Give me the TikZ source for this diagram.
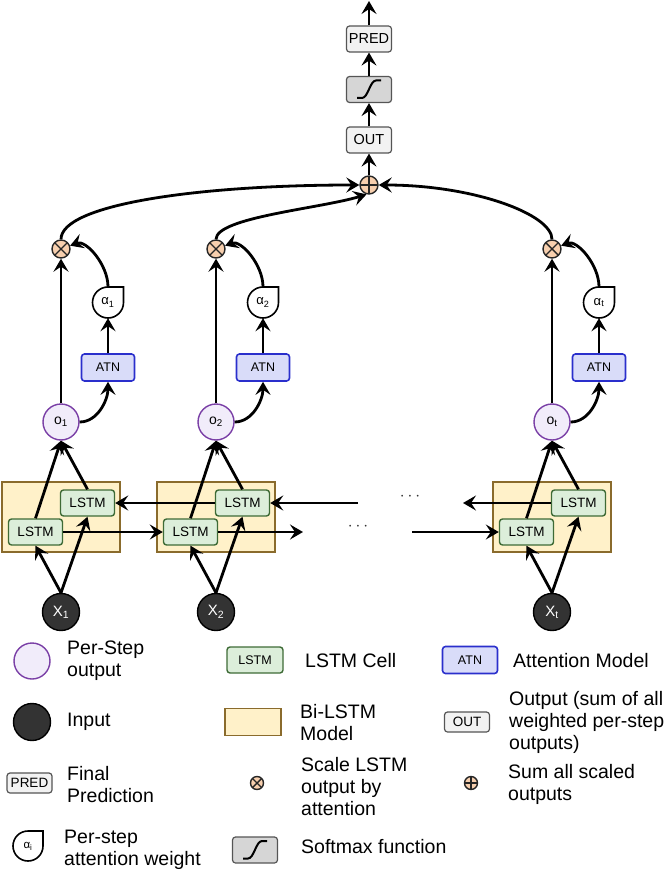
\documentclass[tikz,border=0pt]{standalone}
\usepackage{fontspec}
\setmainfont{Liberation Sans}
\usetikzlibrary{arrows.meta,calc}
\definecolor{ofill}{HTML}{F1ECFA}
\definecolor{oline}{HTML}{7A3FA6}
\definecolor{xfill}{HTML}{333333}
\definecolor{atnfill}{HTML}{D9DCF9}
\definecolor{atnline}{HTML}{2A2FCC}
\definecolor{lstmfill}{HTML}{DCEEDA}
\definecolor{lstmline}{HTML}{3E6B36}
\definecolor{bifill}{HTML}{FFF1C9}
\definecolor{biline}{HTML}{8A6B2C}
\definecolor{peach}{HTML}{F7CFAE}
\definecolor{boxfill}{HTML}{F2F2F2}
\definecolor{boxline}{HTML}{555555}
\definecolor{smfill}{HTML}{D6D6D6}
\begin{document}
\begin{tikzpicture}[x=1pt,y=-1pt,
  arr/.style={line width=2.8pt,-{Stealth[length=13pt,width=15pt,inset=5pt]}},
  lstm/.style={draw=lstmline,fill=lstmfill,line width=1.4pt,rounded corners=3pt,minimum width=54pt,minimum height=26pt,inner sep=0pt,font=\fontsize{13.5}{13.5}\selectfont},
  bibox/.style={draw=biline,fill=bifill,line width=1.4pt,minimum width=118pt,minimum height=70pt,inner sep=0pt},
  atn/.style={draw=atnline,fill=atnfill,line width=1.6pt,rounded corners=3pt,minimum width=53pt,minimum height=27pt,inner sep=0pt,font=\fontsize{12.5}{12.5}\selectfont},
  ocirc/.style={circle,draw=oline,fill=ofill,line width=1.4pt,minimum size=36pt,inner sep=0pt,font=\fontsize{14}{14}\selectfont},
  xcirc/.style={circle,draw=black,fill=xfill,line width=1.4pt,minimum size=37pt,inner sep=0pt,text=white,font=\fontsize{15}{15}\selectfont},
  gbox/.style={draw=boxline,fill=boxfill,line width=1.2pt,rounded corners=3pt,minimum width=45pt,minimum height=26pt,inner sep=0pt,font=\fontsize{14.5}{14.5}\selectfont},
  smbox/.style={draw=boxline,fill=smfill,line width=1.2pt,rounded corners=3pt,minimum width=45pt,minimum height=26pt,inner sep=0pt},
  mult/.style={circle,draw=black!85,fill=peach,line width=1.4pt,minimum size=18pt,inner sep=0pt,
    path picture={\draw[line width=1.4pt,black!85] (path picture bounding box.north west) -- (path picture bounding box.south east) (path picture bounding box.north east) -- (path picture bounding box.south west);}},
  summ/.style={circle,draw=black!85,fill=peach,line width=1.4pt,minimum size=18pt,inner sep=0pt,
    path picture={\draw[line width=1.4pt,black!85] (path picture bounding box.north) -- (path picture bounding box.south) (path picture bounding box.west) -- (path picture bounding box.east);}},
  alphashape/.style={draw=black,fill=white,line width=1.6pt,rounded corners=15.5pt,line cap=rect},
  alphatext/.style={inner sep=0pt,minimum size=31pt,font=\fontsize{13}{13}\selectfont},
  sig/.style={line width=2pt,black},
  legtext/.style={anchor=west,align=left,inner sep=0pt,font=\fontsize{19.5}{22}\selectfont}
]
\useasboundingbox (0,0) rectangle (666,874);

% columns
\foreach \c/\i/\s in {61/1/1,216/2/2,552/3/t}{
  \node[bibox] (b\i) at (\c,517) {};
  \node[lstm] (u\i) at (\c+26.5,503) {LSTM};
  \node[lstm] (l\i) at (\c-25.5,532) {LSTM};
  \node[xcirc] (x\i) at (\c,612) {X\textsubscript{\s}};
  \node[ocirc] (o\i) at (\c,422) {o\textsubscript{\s}};
  \node[atn] (t\i) at (\c+47,367.5) {ATN};
  \draw[alphashape] (\c+62.5,287) -- (\c+62.5,318) -- (\c+31.5,318) -- (\c+31.5,287) -- (\c+62.5,287);
  \node[alphatext] (a\i) at (\c+47,302.5) {α\textsubscript{\s}};
  \node[mult] (m\i) at (\c,249) {};
  \draw[arr] (x\i.north) -- (l\i.south);
  \draw[arr] (x\i.north) -- (u\i.south);
  \draw[arr] (l\i.north) -- (o\i.south);
  \draw[arr] (u\i.north) -- (o\i.south);
  \draw[arr] (o\i.north) -- (m\i.south);
  \draw[arr] (o\i.east) .. controls +(18,0) and +(0,18) .. (t\i.south);
  \draw[arr] (t\i.north) -- (a\i.south);
  \draw[arr] (a\i.north) .. controls +(0,-22) and +(16,-6) .. (m\i.20);
}

% recurrent connections
\coordinate (f2) at (303,532);
\coordinate (f3) at (412,532);
\coordinate (g2) at (358,503);
\coordinate (g3) at (463,503);
\draw[arr] (l1.east) -- (l2.west);
\draw[arr] (l2.east) -- (f2);
\draw[arr] (f3) -- (l3.west);
\draw[arr] (u2.west) -- (u1.east);
\draw[arr] (g2) -- (u2.east);
\draw[arr] (u3.west) -- (g3);
\node[font=\fontsize{16}{16}\selectfont,text=black!80] (d1) at (410,497) {$\cdots$};
\node[font=\fontsize{16}{16}\selectfont,text=black!80] (d2) at (358,527) {$\cdots$};

% top
\node[summ] (s) at (369,185) {};
\node[gbox] (out) at (369,140) {OUT};
\node[smbox] (sm) at (369,89.5) {};
\draw[sig] ($(sm.center)+(-12,8.5)$) -- ++(5,0) .. controls +(6,0) and +(-6,0) .. ++(14,-17.5) -- ++(5,0);
\node[gbox] (pred) at (369,39) {PRED};
\coordinate (top) at (369,1);
\draw[arr] (s.north) -- (out.south);
\draw[arr] (out.north) -- (sm.south);
\draw[arr] (sm.north) -- (pred.south);
\draw[arr] (pred.north) -- (top);
\draw[arr] (m1.north) .. controls +(0,-35) and +(-160,0) .. (s.west);
\draw[arr] (m2.north) .. controls +(0,-22) and +(-45,14) .. (s.-105);
\draw[arr] (m3.north) .. controls +(0,-25) and +(95,0) .. (s.east);

% legend
\node[ocirc] (lo) at (32,661) {};
\node[legtext] (lot) at (67,661) {Per-Step\\output};
\node[xcirc] (lx) at (32,722) {};
\node[legtext] (lxt) at (67,722) {Input};
\node[gbox,minimum height=20pt,font=\fontsize{13.5}{13.5}\selectfont] (lp) at (29.5,783) {PRED};
\node[legtext] (lpt) at (67,785) {Final\\Prediction};
\draw[alphashape,rounded corners=15pt] (43,831) -- (43,861) -- (13,861) -- (13,831) -- (43,831);
\node[alphatext,minimum size=30pt,font=\fontsize{11.5}{11.5}\selectfont] (la) at (28,846) {α\textsubscript{i}};
\node[legtext] (lat) at (64,850) {Per-step\\attention weight};

\node[lstm,minimum width=56pt,font=\fontsize{12.5}{12.5}\selectfont] (ll) at (255,660) {LSTM};
\node[legtext] (llt) at (305,661) {LSTM Cell};
\node[bibox,minimum width=56pt,minimum height=27pt] (lb) at (253,722) {};
\node[legtext] (lbt) at (300,723) {Bi-LSTM\\Model};
\node[mult,minimum size=13pt] (lm) at (257,783) {};
\node[legtext] (lmt) at (301,787) {Scale LSTM\\output by\\attention};
\node[smbox] (ls) at (255,850) {};
\draw[sig] ($(ls.center)+(-12,8.5)$) -- ++(5,0) .. controls +(6,0) and +(-6,0) .. ++(14,-17.5) -- ++(5,0);
\node[legtext] (lst) at (301,847) {Softmax function};

\node[atn,minimum width=55pt] (lan) at (470,660) {ATN};
\node[legtext] (lant) at (513,661) {Attention Model};
\node[gbox,minimum height=20pt,font=\fontsize{13.5}{13.5}\selectfont] (lout) at (467,722) {OUT};
\node[legtext] (loutt) at (509,722) {Output (sum of all\\weighted per-step\\outputs)};
\node[summ,minimum size=13pt] (lsum) at (471,783) {};
\node[legtext] (lsumt) at (508,784) {Sum all scaled\\outputs};
\end{tikzpicture}
\end{document}
